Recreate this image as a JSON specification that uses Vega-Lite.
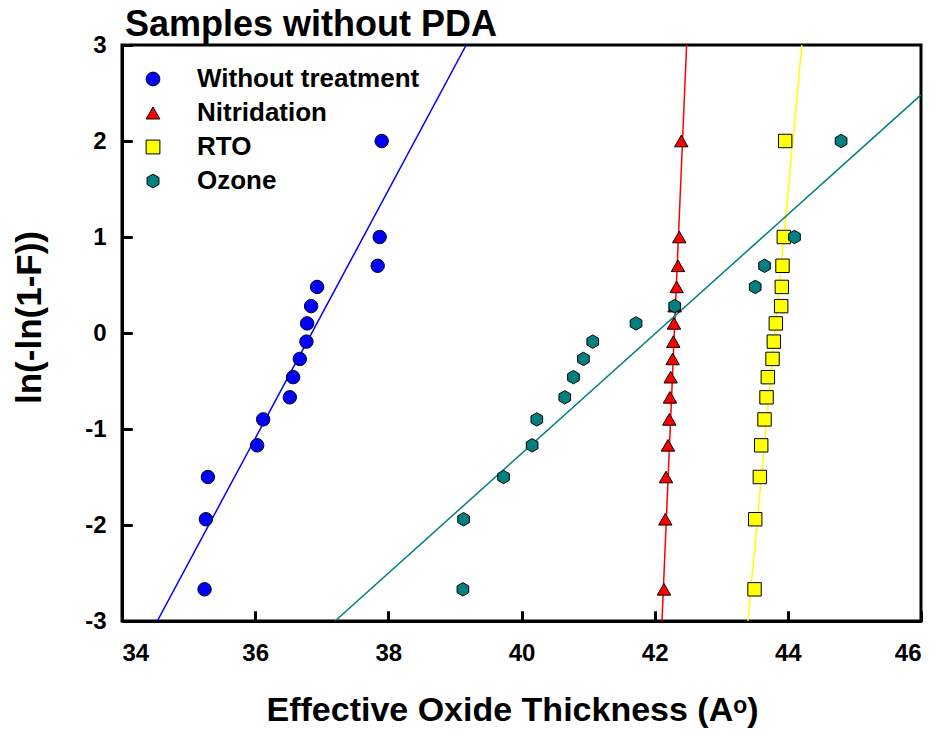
{
  "$schema": "https://vega.github.io/schema/vega-lite/v6.json",
  "width": 799,
  "height": 576,
  "autosize": "none",
  "padding": {"left": 122, "top": 45, "right": 18, "bottom": 115},
  "background": "white",
  "config": {
    "font": "Liberation Sans",
    "view": {"stroke": "black", "strokeWidth": 3},
    "axis": {"grid": false, "domainColor": "black", "domainWidth": 3, "labelFont": "Liberation Sans", "labelFontWeight": "bold", "labelFontSize": 24, "labelColor": "black", "titleFont": "Liberation Sans", "titleFontWeight": "bold", "titleColor": "black"}
  },
  "title": {"text": "Samples without PDA", "anchor": "start", "frame": "group", "font": "Liberation Sans", "fontSize": 36, "fontWeight": "bold", "color": "black", "baseline": "alphabetic", "offset": -39, "dx": 3},
  "resolve": {"axis": {"x": "independent", "y": "independent"}},
  "datasets": {
    "points": [
      {"series": "Without treatment", "x": 37.90, "y": 2.0},
      {"series": "Without treatment", "x": 37.87, "y": 1.0},
      {"series": "Without treatment", "x": 37.84, "y": 0.70},
      {"series": "Without treatment", "x": 36.93, "y": 0.48},
      {"series": "Without treatment", "x": 36.84, "y": 0.28},
      {"series": "Without treatment", "x": 36.78, "y": 0.10},
      {"series": "Without treatment", "x": 36.77, "y": -0.09},
      {"series": "Without treatment", "x": 36.67, "y": -0.27},
      {"series": "Without treatment", "x": 36.57, "y": -0.46},
      {"series": "Without treatment", "x": 36.52, "y": -0.67},
      {"series": "Without treatment", "x": 36.12, "y": -0.90},
      {"series": "Without treatment", "x": 36.03, "y": -1.17},
      {"series": "Without treatment", "x": 35.29, "y": -1.50},
      {"series": "Without treatment", "x": 35.26, "y": -1.94},
      {"series": "Without treatment", "x": 35.24, "y": -2.67},
      {"series": "Nitridation", "x": 42.40, "y": 2.0},
      {"series": "Nitridation", "x": 42.37, "y": 1.0},
      {"series": "Nitridation", "x": 42.35, "y": 0.70},
      {"series": "Nitridation", "x": 42.33, "y": 0.48},
      {"series": "Nitridation", "x": 42.30, "y": 0.28},
      {"series": "Nitridation", "x": 42.29, "y": 0.10},
      {"series": "Nitridation", "x": 42.28, "y": -0.09},
      {"series": "Nitridation", "x": 42.27, "y": -0.27},
      {"series": "Nitridation", "x": 42.24, "y": -0.46},
      {"series": "Nitridation", "x": 42.23, "y": -0.67},
      {"series": "Nitridation", "x": 42.22, "y": -0.90},
      {"series": "Nitridation", "x": 42.20, "y": -1.17},
      {"series": "Nitridation", "x": 42.17, "y": -1.50},
      {"series": "Nitridation", "x": 42.16, "y": -1.94},
      {"series": "Nitridation", "x": 42.14, "y": -2.67},
      {"series": "RTO", "x": 43.96, "y": 2.0},
      {"series": "RTO", "x": 43.94, "y": 1.0},
      {"series": "RTO", "x": 43.92, "y": 0.70},
      {"series": "RTO", "x": 43.91, "y": 0.48},
      {"series": "RTO", "x": 43.90, "y": 0.28},
      {"series": "RTO", "x": 43.82, "y": 0.10},
      {"series": "RTO", "x": 43.79, "y": -0.09},
      {"series": "RTO", "x": 43.77, "y": -0.27},
      {"series": "RTO", "x": 43.70, "y": -0.46},
      {"series": "RTO", "x": 43.68, "y": -0.67},
      {"series": "RTO", "x": 43.65, "y": -0.90},
      {"series": "RTO", "x": 43.60, "y": -1.17},
      {"series": "RTO", "x": 43.58, "y": -1.50},
      {"series": "RTO", "x": 43.51, "y": -1.94},
      {"series": "RTO", "x": 43.50, "y": -2.67},
      {"series": "Ozone", "x": 44.80, "y": 2.0},
      {"series": "Ozone", "x": 44.10, "y": 1.0},
      {"series": "Ozone", "x": 43.65, "y": 0.70},
      {"series": "Ozone", "x": 43.51, "y": 0.48},
      {"series": "Ozone", "x": 42.30, "y": 0.28},
      {"series": "Ozone", "x": 41.72, "y": 0.10},
      {"series": "Ozone", "x": 41.07, "y": -0.09},
      {"series": "Ozone", "x": 40.93, "y": -0.27},
      {"series": "Ozone", "x": 40.78, "y": -0.46},
      {"series": "Ozone", "x": 40.65, "y": -0.67},
      {"series": "Ozone", "x": 40.23, "y": -0.90},
      {"series": "Ozone", "x": 40.16, "y": -1.17},
      {"series": "Ozone", "x": 39.73, "y": -1.50},
      {"series": "Ozone", "x": 39.13, "y": -1.94},
      {"series": "Ozone", "x": 39.12, "y": -2.67}
    ],
    "fits": [
      {"fit": "Without treatment", "x": 34.53, "y": -3},
      {"fit": "Without treatment", "x": 39.17, "y": 3},
      {"fit": "Nitridation", "x": 42.11, "y": -3},
      {"fit": "Nitridation", "x": 42.48, "y": 3},
      {"fit": "RTO", "x": 43.40, "y": -3},
      {"fit": "RTO", "x": 44.21, "y": 3},
      {"fit": "Ozone", "x": 37.20, "y": -3},
      {"fit": "Ozone", "x": 46.0, "y": 2.48}
    ]
  },
  "layer": [
    {
      "data": {"name": "fits"},
      "mark": {"type": "line", "strokeWidth": 1.5, "clip": true},
      "encoding": {
        "x": {"field": "x", "type": "quantitative", "scale": {"domain": [34, 46], "nice": false, "zero": false},
          "axis": {"orient": "top", "offset": -576, "values": [34, 36, 38, 40, 42, 44, 46], "labels": false, "domain": false, "ticks": true, "tickSize": 10, "tickWidth": 3, "tickColor": "black", "title": null}},
        "y": {"field": "y", "type": "quantitative", "scale": {"domain": [-3, 3], "nice": false, "zero": false},
          "axis": {"orient": "right", "offset": -799, "values": [-3, -2, -1, 0, 1, 2, 3], "labels": false, "domain": false, "ticks": true, "tickSize": 10, "tickWidth": 3, "tickColor": "black", "title": null}},
        "detail": {"field": "fit"},
        "stroke": {"field": "fit", "type": "nominal", "legend": null, "scale": {"domain": ["Nitridation", "Ozone", "RTO", "Without treatment"], "range": ["#FF0000", "#008080", "#FFFF00", "#0000FF"]}}
      }
    },
    {
      "data": {"name": "points"},
      "mark": {"type": "point", "filled": true, "stroke": "black", "strokeWidth": 1, "opacity": 1, "size": 180},
      "encoding": {
        "x": {"field": "x", "type": "quantitative", "scale": {"domain": [34, 46], "nice": false, "zero": false},
          "axis": {"orient": "bottom", "values": [34, 36, 38, 40, 42, 44, 46], "labelExpr": "'' + datum.value", "ticks": true, "tickColor": "black", "tickWidth": 3, "tickOpacity": 1, "tickSize": -10, "labelPadding": 30, "title": "Effective Oxide Thickness (Aᵒ)", "titleFontSize": 34, "titleX": 390, "titleY": 99, "titleAlign": "center", "titleBaseline": "alphabetic"}},
        "y": {"field": "y", "type": "quantitative", "scale": {"domain": [-3, 3], "nice": false, "zero": false},
          "axis": {"orient": "left", "values": [-3, -2, -1, 0, 1, 2, 3], "labelExpr": "'' + datum.value", "ticks": true, "tickColor": "black", "tickWidth": 3, "tickOpacity": 1, "tickSize": -10, "labelPadding": 26, "title": "ln(-ln(1-F))", "titleFontSize": 35, "titleAngle": -90, "titleX": -82, "titleY": 272, "titleAlign": "center", "titleBaseline": "alphabetic"}},
        "fill": {"field": "series", "type": "nominal", "sort": null, "scale": {"domain": ["Without treatment", "Nitridation", "RTO", "Ozone"], "range": ["#0000FF", "#FF0000", "#FFFF00", "#008080"]},
          "legend": {"title": null, "orient": "none", "legendX": 18, "legendY": 21, "padding": 0, "labelFont": "Liberation Sans", "labelFontWeight": "bold", "labelFontSize": 26, "labelColor": "black", "labelLimit": 0, "labelOffset": 31, "rowPadding": 8, "symbolStrokeColor": "black", "symbolStrokeWidth": 1, "symbolSize": 190, "symbolOpacity": 1}},
        "shape": {"field": "series", "type": "nominal", "sort": null, "scale": {"domain": ["Without treatment", "Nitridation", "RTO", "Ozone"], "range": ["circle", "triangle-up", "square", "M0,-1L0.866,-0.5L0.866,0.5L0,1L-0.866,0.5L-0.866,-0.5Z"]}}
      }
    }
  ]
}
